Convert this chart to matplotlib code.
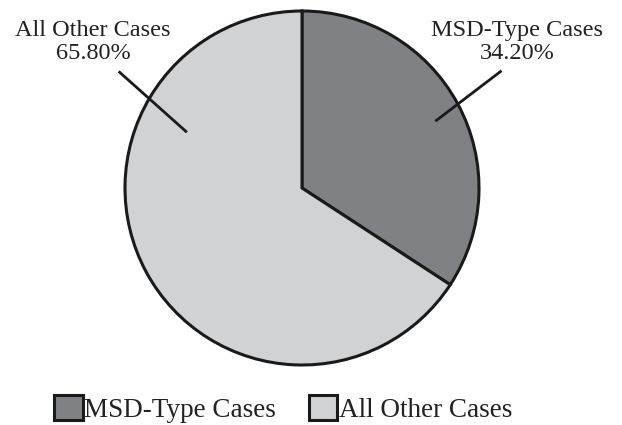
import numpy as np
import matplotlib
matplotlib.use("Agg")
import matplotlib.pyplot as plt

# data
labels = ["MSD-Type Cases", "All Other Cases"]
legend_labels = ["MSD-Type Cases", "All Other Cases"]
shares = [34.20, 65.80]
colors = ["#808184", "#d1d2d4"]

plt.rcParams['font.family'] = ['Liberation Serif', 'DejaVu Serif']

fig = plt.figure(figsize=(6.22, 4.25), dpi=100)
# pie box: radius ~177 px, centre ~(302, 188)
ax = fig.add_axes([125 / 622, 60 / 425, 354 / 622, 354 / 425])

wedges, _ = ax.pie(shares, colors=colors, startangle=90, counterclock=False,
                   radius=1, wedgeprops=dict(edgecolor="#1a1a1a", linewidth=2.2))
ax.set_xlim(-1, 1)
ax.set_ylim(-1, 1)
ax.set_aspect("equal")
ax.axis("off")

# leader lines: (inner angle, inner r, outer angle, outer r)
leader = [(26.7, 0.85, 30.4, 1.30), (154.0, 0.73, 147.6, 1.22)]
label_pos = [(517, 20), (93, 20)]
for i, (a0, r0, a1, r1) in enumerate(leader):
    a0, a1 = np.deg2rad(a0), np.deg2rad(a1)
    ax.plot([r0 * np.cos(a0), r1 * np.cos(a1)], [r0 * np.sin(a0), r1 * np.sin(a1)],
            color="#1a1a1a", lw=2, clip_on=False)
    px, py = label_pos[i]
    fig.text(px / 622, 1 - py / 425, "%s\n%.2f%%" % (labels[i], shares[i]),
             ha="center", va="top", fontsize=17.5, linespacing=1.12, color="#222222")

leg = fig.legend(wedges, legend_labels, loc="center", bbox_to_anchor=(283 / 622, 1 - 409 / 425),
                 ncol=2, frameon=False, fontsize=19.5, handlelength=1.07, handleheight=1.05,
                 handletextpad=0.05, columnspacing=1.2, borderpad=0)
for t in leg.get_texts():
    t.set_color("#222222")

fig.savefig("out.png", dpi=100)
